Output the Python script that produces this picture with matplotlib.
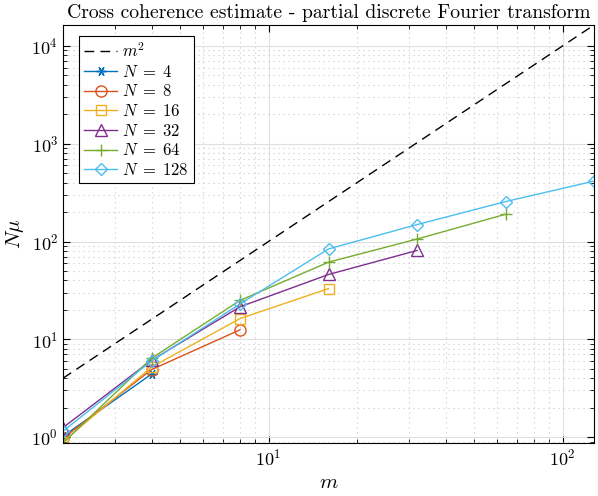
import matplotlib

matplotlib.use("Agg")
import matplotlib.pyplot as plt  # noqa: E402
import numpy as np  # noqa: E402
from matplotlib.ticker import LogLocator, NullFormatter  # noqa: E402

# m values (x axis) and N mu values
m_values = [2, 4, 8, 16, 32, 64, 128]
n_values = [4, 8, 16, 32, 64, 128]

mu_n4 = [1.02, 4.4]
mu_n8 = [0.97, 4.9, 12.5]
mu_n16 = [0.90, 5.2, 16.3, 33.0]
mu_n32 = [1.25, 6.1, 21.5, 46.0, 81.0]
mu_n64 = [0.87, 6.4, 25.0, 61.5, 106.0, 190.0]
mu_n128 = [1.15, 6.0, 23.0, 84.0, 149.0, 256.0, 415.0]

series = [mu_n4, mu_n8, mu_n16, mu_n32, mu_n64, mu_n128]

colors = ["#0072BD", "#D95319", "#EDB120", "#7E2F8E", "#77AC30", "#4DBEEE"]
markers = [(6, 2, 90), "o", "s", "^", "+", "D"]
msizes = [7, 8, 6.5, 8, 9, 6.5]

plt.rcParams["font.family"] = "serif"
plt.rcParams["font.serif"] = ["cmr10", "DejaVu Serif"]
plt.rcParams["mathtext.fontset"] = "cm"
plt.rcParams["axes.formatter.use_mathtext"] = True

fig = plt.figure(figsize=(5.98, 4.96), dpi=100)
ax = fig.add_axes([0.1054, 0.1069, 0.888, 0.8427])

m_arr = np.array(m_values, dtype=float)
ax.plot(m_arr, m_arr ** 2, color="black", linestyle=(0, (7, 4.5)), linewidth=1.0,
        label=r"$m^2$")

for n, vals, c, mk, ms in zip(n_values, series, colors, markers, msizes):
    ax.plot(m_values[:len(vals)], vals, color=c, marker=mk, markersize=ms,
            markerfacecolor="none", markeredgecolor=c, markeredgewidth=1.0,
            linewidth=1.0, label=rf"$N\;=\;{n}$")

ax.set_xscale("log")
ax.set_yscale("log")
ax.set_xlim(2, 128)
ax.set_ylim(0.87, 16384)

ax.yaxis.set_major_locator(LogLocator(base=10, numticks=10))
ax.yaxis.set_minor_locator(LogLocator(base=10, subs=np.arange(2, 10), numticks=20))
ax.xaxis.set_minor_locator(LogLocator(base=10, subs=np.arange(2, 10), numticks=20))
ax.xaxis.set_minor_formatter(NullFormatter())
ax.yaxis.set_minor_formatter(NullFormatter())

ax.grid(True, which="major", color="#e0e0e0", linewidth=0.8)
ax.grid(True, which="minor", color="#c8c8c8", linestyle=(0, (1, 3.5)), linewidth=0.8)
ax.set_axisbelow(True)

ax.tick_params(which="both", direction="in", top=True, right=True, labelsize=13)
ax.tick_params(which="major", length=5)
ax.tick_params(which="minor", length=3)
for sp in ax.spines.values():
    sp.set_linewidth(0.8)

ax.set_xlabel(r"$m$", fontsize=15)
ax.set_ylabel(r"$N\mu$", fontsize=15)
ax.set_title("Cross coherence estimate - partial discrete Fourier transform",
             fontsize=14.2, pad=5)

leg = ax.legend(loc="upper left", bbox_to_anchor=(0.03, 0.973), fontsize=12,
                fancybox=False, framealpha=1, edgecolor="black", borderpad=0.3,
                labelspacing=0.22, handlelength=2.0, handletextpad=0.3,
                borderaxespad=0)
leg.get_frame().set_linewidth(0.8)

fig.savefig("out.png", dpi=100)
